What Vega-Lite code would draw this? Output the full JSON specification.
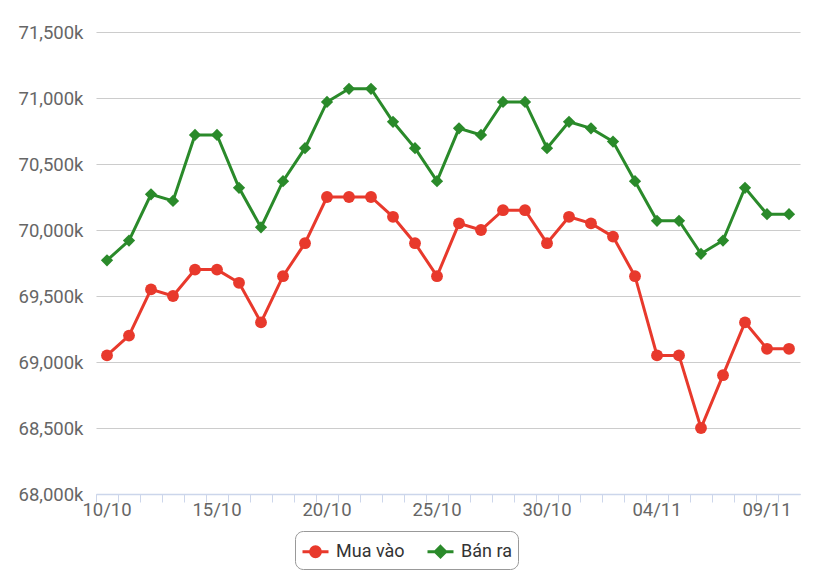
{
  "$schema": "https://vega.github.io/schema/vega-lite/v6.json",
  "autosize": {"type": "none"},
  "width": 704,
  "height": 462,
  "padding": {"left": 96, "top": 32, "right": 16, "bottom": 84},
  "background": "white",
  "config": {
    "font": "Roboto",
    "view": {"stroke": null}
  },
  "data": {
    "values": [
      {"d": "10/10", "s": "Mua vào", "v": 69050}, {"d": "10/10", "s": "Bán ra", "v": 69770},
      {"d": "11/10", "s": "Mua vào", "v": 69200}, {"d": "11/10", "s": "Bán ra", "v": 69920},
      {"d": "12/10", "s": "Mua vào", "v": 69550}, {"d": "12/10", "s": "Bán ra", "v": 70270},
      {"d": "13/10", "s": "Mua vào", "v": 69500}, {"d": "13/10", "s": "Bán ra", "v": 70220},
      {"d": "14/10", "s": "Mua vào", "v": 69700}, {"d": "14/10", "s": "Bán ra", "v": 70720},
      {"d": "15/10", "s": "Mua vào", "v": 69700}, {"d": "15/10", "s": "Bán ra", "v": 70720},
      {"d": "16/10", "s": "Mua vào", "v": 69600}, {"d": "16/10", "s": "Bán ra", "v": 70320},
      {"d": "17/10", "s": "Mua vào", "v": 69300}, {"d": "17/10", "s": "Bán ra", "v": 70020},
      {"d": "18/10", "s": "Mua vào", "v": 69650}, {"d": "18/10", "s": "Bán ra", "v": 70370},
      {"d": "19/10", "s": "Mua vào", "v": 69900}, {"d": "19/10", "s": "Bán ra", "v": 70620},
      {"d": "20/10", "s": "Mua vào", "v": 70250}, {"d": "20/10", "s": "Bán ra", "v": 70970},
      {"d": "21/10", "s": "Mua vào", "v": 70250}, {"d": "21/10", "s": "Bán ra", "v": 71070},
      {"d": "22/10", "s": "Mua vào", "v": 70250}, {"d": "22/10", "s": "Bán ra", "v": 71070},
      {"d": "23/10", "s": "Mua vào", "v": 70100}, {"d": "23/10", "s": "Bán ra", "v": 70820},
      {"d": "24/10", "s": "Mua vào", "v": 69900}, {"d": "24/10", "s": "Bán ra", "v": 70620},
      {"d": "25/10", "s": "Mua vào", "v": 69650}, {"d": "25/10", "s": "Bán ra", "v": 70370},
      {"d": "26/10", "s": "Mua vào", "v": 70050}, {"d": "26/10", "s": "Bán ra", "v": 70770},
      {"d": "27/10", "s": "Mua vào", "v": 70000}, {"d": "27/10", "s": "Bán ra", "v": 70720},
      {"d": "28/10", "s": "Mua vào", "v": 70150}, {"d": "28/10", "s": "Bán ra", "v": 70970},
      {"d": "29/10", "s": "Mua vào", "v": 70150}, {"d": "29/10", "s": "Bán ra", "v": 70970},
      {"d": "30/10", "s": "Mua vào", "v": 69900}, {"d": "30/10", "s": "Bán ra", "v": 70620},
      {"d": "31/10", "s": "Mua vào", "v": 70100}, {"d": "31/10", "s": "Bán ra", "v": 70820},
      {"d": "01/11", "s": "Mua vào", "v": 70050}, {"d": "01/11", "s": "Bán ra", "v": 70770},
      {"d": "02/11", "s": "Mua vào", "v": 69950}, {"d": "02/11", "s": "Bán ra", "v": 70670},
      {"d": "03/11", "s": "Mua vào", "v": 69650}, {"d": "03/11", "s": "Bán ra", "v": 70370},
      {"d": "04/11", "s": "Mua vào", "v": 69050}, {"d": "04/11", "s": "Bán ra", "v": 70070},
      {"d": "05/11", "s": "Mua vào", "v": 69050}, {"d": "05/11", "s": "Bán ra", "v": 70070},
      {"d": "06/11", "s": "Mua vào", "v": 68500}, {"d": "06/11", "s": "Bán ra", "v": 69820},
      {"d": "07/11", "s": "Mua vào", "v": 68900}, {"d": "07/11", "s": "Bán ra", "v": 69920},
      {"d": "08/11", "s": "Mua vào", "v": 69300}, {"d": "08/11", "s": "Bán ra", "v": 70320},
      {"d": "09/11", "s": "Mua vào", "v": 69100}, {"d": "09/11", "s": "Bán ra", "v": 70120},
      {"d": "10/11", "s": "Mua vào", "v": 69100}, {"d": "10/11", "s": "Bán ra", "v": 70120}
    ]
  },
  "encoding": {
    "x": {
      "field": "d",
      "type": "ordinal",
      "sort": null,
      "scale": {"type": "band", "paddingInner": 0, "paddingOuter": 0},
      "axis": {
        "title": null,
        "bandPosition": 0,
        "labelOffset": 0,
        "labelAngle": 0,
        "labelOverlap": false,
        "labelExpr": "(datum.value === '10/10' || datum.value === '15/10' || datum.value === '20/10' || datum.value === '25/10' || datum.value === '30/10' || datum.value === '04/11' || datum.value === '09/11') ? datum.value : ''",
        "labelFontSize": 18.5,
        "labelColor": "#666666",
        "labelPadding": -2,
        "domainColor": "#ccd6eb",
        "domainWidth": 1.5,
        "tickColor": "#ccd6eb",
        "tickSize": 8,
        "grid": false
      }
    },
    "y": {
      "field": "v",
      "type": "quantitative",
      "scale": {"domain": [68000, 71500], "nice": false, "zero": false},
      "axis": {
        "title": null,
        "values": [68000, 68500, 69000, 69500, 70000, 70500, 71000, 71500],
        "labelExpr": "format(datum.value, ',') + 'k'",
        "labelFontSize": 18.5,
        "labelColor": "#666666",
        "labelPadding": 13,
        "domain": false,
        "ticks": false,
        "grid": true,
        "gridColor": "#cccccc",
        "gridWidth": 1.2
      }
    },
    "color": {
      "field": "s",
      "type": "nominal",
      "scale": {"domain": ["Mua vào", "Bán ra"], "range": ["#e8392c", "#2a8a2a"]},
      "legend": {
        "title": null,
        "orient": "none",
        "legendX": 199,
        "legendY": 499,
        "direction": "horizontal",
        "strokeColor": "#999999",
        "cornerRadius": 8,
        "padding": 6,
        "labelFontSize": 18,
        "labelColor": "#333333",
        "symbolSize": 676,
        "symbolStrokeWidth": 3,
        "columnPadding": 16,
        "labelOffset": 6,
        "encode": {
          "symbols": {
            "update": {
              "shape": {"signal": "datum.value === 'Mua vào' ? 'M-1,0L1,0M0.38,0A0.38,0.38,0,1,1,-0.38,0A0.38,0.38,0,1,1,0.38,0Z' : 'M-1,0L1,0M0,-0.4L0.4,0L0,0.4L-0.4,0Z'"},
              "fill": {"signal": "datum.value === 'Mua vào' ? '#e8392c' : '#2a8a2a'"},
              "stroke": {"signal": "datum.value === 'Mua vào' ? '#e8392c' : '#2a8a2a'"},
              "strokeWidth": {"value": 3}
            }
          }
        }
      }
    }
  },
  "layer": [
    {
      "mark": {"type": "line", "strokeWidth": 3}
    },
    {
      "transform": [{"filter": "datum.s === 'Mua vào'"}],
      "mark": {"type": "point", "shape": "circle", "filled": true, "opacity": 1, "size": 140}
    },
    {
      "transform": [{"filter": "datum.s === 'Bán ra'"}],
      "mark": {"type": "point", "shape": "diamond", "filled": true, "opacity": 1, "size": 150}
    }
  ]
}
